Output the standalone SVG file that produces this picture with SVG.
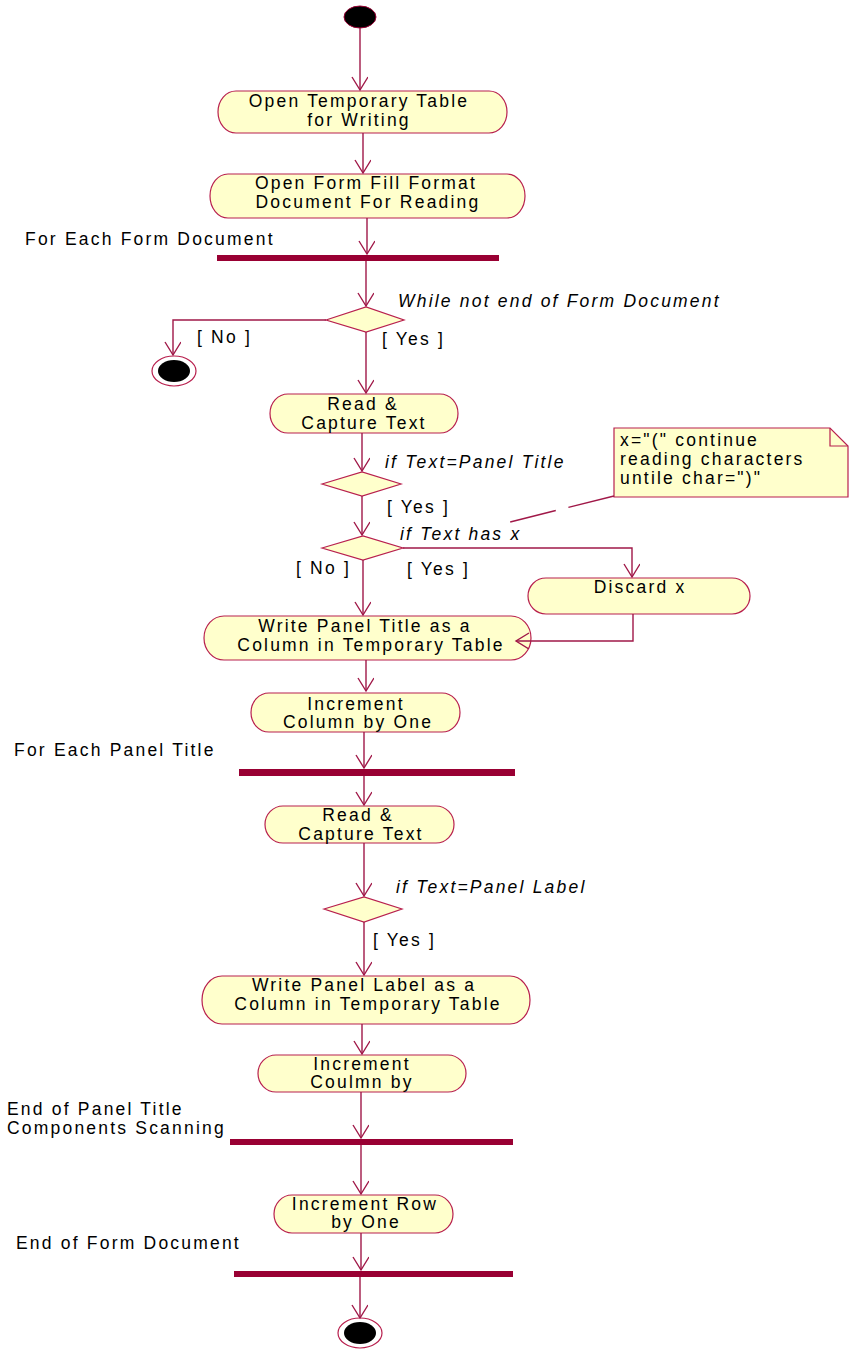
<svg xmlns="http://www.w3.org/2000/svg" width="849" height="1353" viewBox="0 0 849 1353">
<style>
.n{fill:#ffffcc;stroke:#b8204e;stroke-width:1.2}
.bar{fill:#990033}
.c{fill:none;stroke:#a01848;stroke-width:1.4}
.t{font-family:"Liberation Sans",Arial,sans-serif;font-size:17.5px;letter-spacing:2.2px;fill:#000}
.m{text-anchor:middle}
.i{font-style:italic}
</style>
<defs>
<marker id="a" markerUnits="userSpaceOnUse" markerWidth="20" markerHeight="20" refX="14" refY="8" orient="auto">
<path d="M1,0 L14,8 L1,16" fill="none" stroke="#a01848" stroke-width="1.4"/>
</marker>
</defs>
<rect width="849" height="1353" fill="#fff"/>

<g id="start"><ellipse cx="360" cy="17" rx="16" ry="11" fill="#000" stroke="#990033"/></g>

<g id="open-temp">
<rect class="n" x="218" y="91" width="289" height="42" rx="18" ry="21"/>
<text class="t m" x="359" y="107">Open Temporary Table</text>
<text class="t m" x="359" y="126">for Writing</text>
</g>

<g id="open-form">
<rect class="n" x="210" y="174" width="315" height="44" rx="18" ry="22"/>
<text class="t m" x="366" y="189">Open Form Fill Format</text>
<text class="t m" x="368" y="208">Document For Reading</text>
</g>

<g id="bar1">
<rect class="bar" x="217" y="255" width="282" height="6"/>
<text class="t" x="25" y="245">For Each Form Document</text>
</g>

<g id="dec1">
<polygon class="n" points="326,320 366,307 404,320 366,332"/>
<text class="t i" x="398" y="307">While not end of Form Document</text>
<text class="t" x="197" y="343">[ No ]</text>
<text class="t" x="382" y="345">[ Yes ]</text>
</g>

<g id="end1">
<ellipse cx="174" cy="371" rx="22" ry="15" fill="#fff" stroke="#b8204e" stroke-width="1.2"/>
<ellipse cx="174" cy="371" rx="16" ry="11" fill="#000"/>
</g>

<g id="read1">
<rect class="n" x="270" y="394" width="188" height="39" rx="18" ry="19.5"/>
<text class="t m" x="363" y="410">Read &amp;</text>
<text class="t m" x="364" y="429">Capture Text</text>
</g>

<g id="dec2">
<polygon class="n" points="322,484 362,472 401,484 362,496"/>
<text class="t i" x="385" y="468">if Text=Panel Title</text>
<text class="t" x="387" y="513">[ Yes ]</text>
</g>

<g id="dec3">
<polygon class="n" points="322,548 363,536 403,548 363,560"/>
<text class="t i" x="400" y="540">if Text has x</text>
<text class="t" x="296" y="574">[ No ]</text>
<text class="t" x="407" y="575">[ Yes ]</text>
</g>

<g id="note">
<path d="M614,428 H830 L848,446 V497 H614 Z" fill="#ffffcc" stroke="#b8204e" stroke-width="1.2"/>
<path d="M830,428 V446 H848" fill="none" stroke="#b8204e" stroke-width="1.2"/>
<text class="t" x="620" y="446">x="(" continue</text>
<text class="t" x="620" y="465">reading characters</text>
<text class="t" x="620" y="484">untile char=")"</text>
</g>

<g id="discard">
<rect class="n" x="528" y="578" width="222" height="36" rx="18" ry="18"/>
<text class="t m" x="640" y="593">Discard x</text>
</g>

<g id="write-title">
<rect class="n" x="204" y="616" width="327" height="44" rx="20" ry="22"/>
<text class="t m" x="365" y="632">Write Panel Title as a</text>
<text class="t m" x="371" y="651">Column in Temporary Table</text>
</g>

<g id="inc-col">
<rect class="n" x="251" y="693" width="209" height="39" rx="18" ry="19.5"/>
<text class="t m" x="356" y="710">Increment</text>
<text class="t m" x="358" y="728">Column by One</text>
</g>

<g id="bar2">
<rect class="bar" x="239" y="769" width="276" height="7"/>
<text class="t" x="14" y="756">For Each Panel Title</text>
</g>

<g id="read2">
<rect class="n" x="265" y="806" width="189" height="37" rx="18" ry="18.5"/>
<text class="t m" x="358" y="821">Read &amp;</text>
<text class="t m" x="361" y="840">Capture Text</text>
</g>

<g id="dec4">
<polygon class="n" points="324,909 364,897 402,909 364,922"/>
<text class="t i" x="396" y="893">if Text=Panel Label</text>
<text class="t" x="373" y="946">[ Yes ]</text>
</g>

<g id="write-label">
<rect class="n" x="202" y="976" width="328" height="48" rx="20" ry="24"/>
<text class="t m" x="364" y="991">Write Panel Label as a</text>
<text class="t m" x="368" y="1010">Column in Temporary Table</text>
</g>

<g id="inc-coulmn">
<rect class="n" x="258" y="1055" width="208" height="37" rx="18" ry="18.5"/>
<text class="t m" x="362" y="1070">Increment</text>
<text class="t m" x="362" y="1088">Coulmn by</text>
</g>

<g id="bar3">
<rect class="bar" x="230" y="1139" width="283" height="6"/>
<text class="t" x="7" y="1115">End of Panel Title</text>
<text class="t" x="7" y="1134">Components Scanning</text>
</g>

<g id="inc-row">
<rect class="n" x="274" y="1195" width="179" height="38" rx="18" ry="19"/>
<text class="t m" x="365" y="1210">Increment Row</text>
<text class="t m" x="366" y="1228">by One</text>
</g>

<g id="bar4">
<rect class="bar" x="234" y="1271" width="279" height="6"/>
<text class="t" x="16" y="1249">End of Form Document</text>
</g>

<g id="end2">
<ellipse cx="360" cy="1333" rx="22" ry="15" fill="#fff" stroke="#b8204e" stroke-width="1.2"/>
<ellipse cx="360" cy="1333" rx="16" ry="11" fill="#000"/>
</g>

<g id="connectors">
<path class="c" d="M360,28 V90" marker-end="url(#a)"/>
<path class="c" d="M363,133 V173" marker-end="url(#a)"/>
<path class="c" d="M367,218 V254" marker-end="url(#a)"/>
<path class="c" d="M366,261 V306" marker-end="url(#a)"/>
<path class="c" d="M326,320 H173 V355" marker-end="url(#a)"/>
<path class="c" d="M366,332 V393" marker-end="url(#a)"/>
<path class="c" d="M362,433 V471" marker-end="url(#a)"/>
<path class="c" d="M362,496 V535" marker-end="url(#a)"/>
<path class="c" d="M403,548 H632 V577" marker-end="url(#a)"/>
<path class="c" d="M633,614 V641 H516" marker-end="url(#a)"/>
<path class="c" d="M363,560 V615" marker-end="url(#a)"/>
<path class="c" d="M366,660 V691" marker-end="url(#a)"/>
<path class="c" d="M364,732 V768" marker-end="url(#a)"/>
<path class="c" d="M364,776 V805" marker-end="url(#a)"/>
<path class="c" d="M364,843 V896" marker-end="url(#a)"/>
<path class="c" d="M364,922 V975" marker-end="url(#a)"/>
<path class="c" d="M362,1024 V1054" marker-end="url(#a)"/>
<path class="c" d="M361,1092 V1138" marker-end="url(#a)"/>
<path class="c" d="M361,1145 V1194" marker-end="url(#a)"/>
<path class="c" d="M361,1233 V1270" marker-end="url(#a)"/>
<path class="c" d="M360,1277 V1318" marker-end="url(#a)"/>
<path class="c" d="M614,496 L510,522" stroke-dasharray="47 13"/>
</g>
</svg>
